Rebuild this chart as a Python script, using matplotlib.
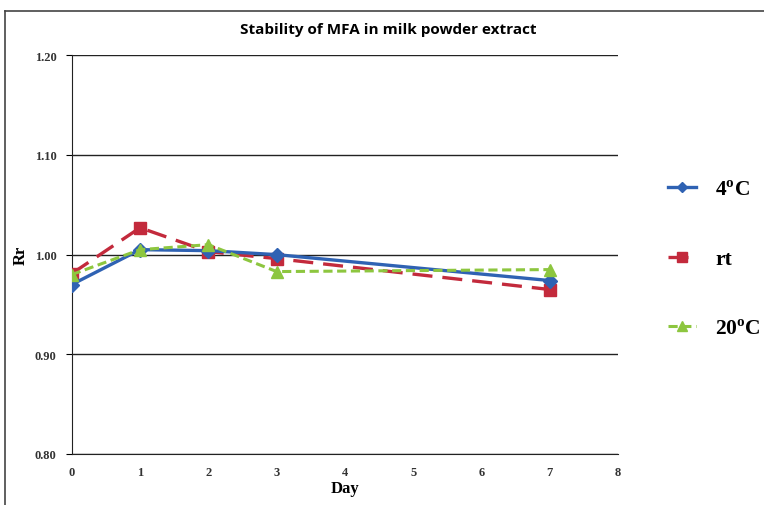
import matplotlib.pyplot as plt
from matplotlib.lines import Line2D

plt.rcParams["mathtext.fontset"] = "custom"
plt.rcParams["mathtext.bf"] = "Liberation Serif:bold"
plt.rcParams["mathtext.rm"] = "Liberation Serif"

# data
days = [0, 1, 2, 3, 7]
rr_4c = [0.970, 1.005, 1.004, 1.000, 0.974]
rr_rt = [0.981, 1.027, 1.003, 0.996, 0.965]
rr_20c = [0.980, 1.005, 1.010, 0.983, 0.985]
labels = ["4$^{\\mathbf{o}}$C", "rt", "20$^{\\mathbf{o}}$C"]

x_ticks = list(range(0, 9))
y_ticks = [0.80, 0.90, 1.00, 1.10, 1.20]

fig = plt.figure(figsize=(7.64, 5.06), dpi=100)
ax = fig.add_axes([0.094, 0.1008, 0.715, 0.788])

ax.plot(days, rr_4c, color="#2f62b3", lw=2.4, marker="D", ms=7, label=labels[0], zorder=4)
ax.plot(days, rr_rt, color="#c32a3c", lw=2.4, ls=(0, (6, 3)), marker="s", ms=9, label=labels[1], zorder=3)
ax.plot(days, rr_20c, color="#8dc63f", lw=2.2, ls=(0, (3, 1.5)), marker="^", ms=9, label=labels[2], zorder=5)

ax.set_xlim(0, 8)
ax.set_ylim(0.80, 1.20)
ax.set_xticks(x_ticks)
ax.set_yticks(y_ticks)
ax.set_yticklabels(["%.2f" % v for v in y_ticks])
ax.yaxis.grid(True, color="#222222", lw=1.0)
ax.set_axisbelow(True)
for s in ["top", "right"]:
    ax.spines[s].set_visible(False)
ax.spines["left"].set_color("#222222")
ax.spines["bottom"].set_color("#222222")
ax.tick_params(axis="x", length=0, pad=9)
ax.tick_params(axis="y", length=4, direction="out", pad=7)
for t in ax.get_xticklabels() + ax.get_yticklabels():
    t.set_fontfamily("Liberation Serif")
    t.set_fontweight("bold")
    t.set_fontsize(9)
    t.set_color("#333333")

ax.set_xlabel("Day", family="Liberation Serif", fontweight="bold", fontsize=12, labelpad=1)
ax.set_ylabel("Rr", family="Liberation Serif", fontweight="bold", fontsize=12, labelpad=4)

fig.text(0.508, 0.94, "Stability of MFA in milk powder extract", ha="center", va="center",
         family="Open Sans", fontweight="bold", fontsize=11)

leg = fig.legend(loc="upper left", bbox_to_anchor=(0.874, 0.643), frameon=False,
                 prop={"family": "Liberation Serif", "weight": "bold", "size": 15.5},
                 labelspacing=2.3, handlelength=1.3, handletextpad=0.9,
                 markerscale=0.8, borderpad=0, borderaxespad=0)

# outer frame
fig.add_artist(Line2D([0.007, 0.007], [0, 0.977], transform=fig.transFigure, color="#444444", lw=1.2))
fig.add_artist(Line2D([0.007, 1.0], [0.977, 0.977], transform=fig.transFigure, color="#444444", lw=1.2))

fig.savefig("out.png", dpi=100)
